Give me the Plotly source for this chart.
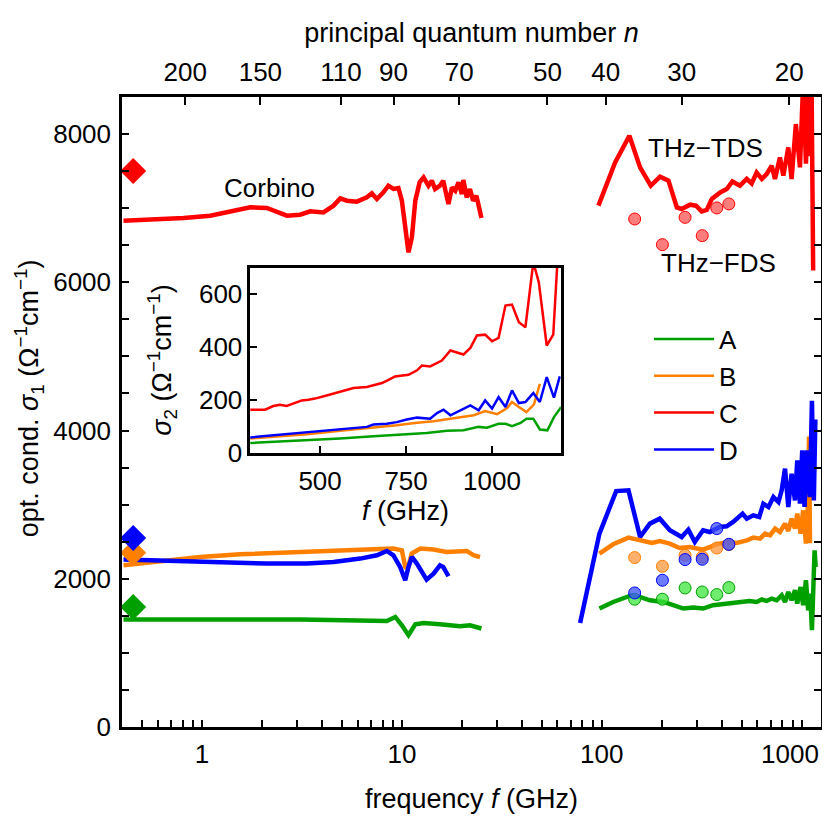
import plotly.graph_objects as go

## Colours of the four samples
col_A = "#00a000"
col_B = "#ff8000"
col_C = "#ff0000"
col_D = "#0000ff"

## DC values (diamonds)
dc_f = [0.453, 0.453, 0.453, 0.453]
dc_s1 = [1620, 2350, 7500, 2550]

## Corbino data, sigma_1 (Ohm^-1 cm^-1) vs frequency (GHz)
corb_f_A = [0.405, 0.98, 3.1, 8.41, 9.27, 10.0, 10.79, 11.67, 12.84, 15.5, 19.5, 21.9, 25.0]
corb_s_A = [1450, 1450, 1450, 1431, 1485, 1373, 1239, 1387, 1404, 1387, 1360, 1373, 1329]

corb_f_B = [0.405, 0.668, 0.98, 1.55, 2.56, 4.55, 7.21, 9.07, 10.0, 10.39, 10.7, 11.2,
            12.36, 14.4, 16.7, 19.5, 21.1, 22.8, 24.6]
corb_s_B = [2182, 2249, 2294, 2330, 2348, 2371, 2394, 2407, 2384, 2159, 2137, 2340,
            2407, 2394, 2361, 2361, 2375, 2317, 2294]

corb_f_C = [0.405, 0.551, 0.809, 1.10, 1.44, 1.745, 2.11, 2.66, 3.10, 3.48, 4.05, 4.55,
            4.92, 5.31, 5.95, 6.68, 7.07, 7.50, 8.08, 8.56, 9.07, 9.61, 10.0, 10.39,
            10.79, 11.22, 11.67, 12.27, 12.84, 13.58, 14.12, 14.66, 15.5, 16.1, 17.1,
            17.8, 18.5, 19.2, 19.95, 20.3, 21.1, 21.9, 22.7, 23.6, 24.5, 25.0]
corb_s_C = [6831, 6841, 6868, 6899, 6957, 7011, 7003, 6899, 6912, 6957, 6943, 7034,
            7132, 7101, 7088, 7146, 7199, 7124, 7213, 7303, 7259, 7272, 7101, 6787,
            6404, 6606, 7101, 7348, 7415, 7303, 7371, 7259, 7303, 7371, 7057,
            7280, 7236, 7348, 7191, 7380, 7146, 7259, 7101, 7168, 6922, 6868]

corb_f_D = [0.405, 0.668, 1.19, 2.11, 3.35, 4.55, 6.19, 7.5, 8.41, 9.07, 9.8, 10.39,
            10.79, 11.22, 11.88, 13.3, 14.4, 15.5, 16.1, 17.1]
corb_s_D = [2259, 2240, 2226, 2205, 2205, 2226, 2272, 2317, 2375, 2317, 2159, 1980,
            2159, 2294, 2205, 1989, 2070, 2182, 2159, 2034]

## THz-TDS data
tds_f_A = [97.3, 114, 141, 155, 174, 203, 228, 256, 287, 321, 360, 421, 489, 548, 595,
           631, 668, 708, 750, 794, 825, 857, 890, 925, 950, 987, 1017, 1050, 1077,
           1103, 1125, 1160, 1175]
tds_s_A = [1598, 1687, 1778, 1755, 1710, 1687, 1643, 1598, 1611, 1598, 1643, 1666, 1687,
           1701, 1687, 1720, 1701, 1733, 1710, 1778, 1687, 1822, 1710, 1845, 1666, 1889,
           1643, 1980, 1575, 1800, 1306, 2384, 2159]

tds_f_B = [97.3, 114, 136, 155, 178, 195, 219, 245, 275, 321, 376, 421, 473, 531, 573,
           619, 655, 695, 736, 779, 825, 857, 890, 925, 950, 987, 1017, 1050, 1077,
           1088, 1100]
tds_s_B = [2340, 2465, 2555, 2519, 2482, 2509, 2474, 2415, 2429, 2393, 2465, 2496, 2482,
           2519, 2555, 2541, 2609, 2586, 2677, 2631, 2744, 2644, 2811, 2677, 2879, 2609,
           2923, 2474, 3058, 3920, 2480]

tds_f_C = [96.2, 116.6, 137.4, 155.4, 175.8, 195.7, 215.5, 237.4, 251, 276.5, 296, 316,
           335, 355, 391, 422, 450, 491, 531, 562, 595, 631, 668, 708, 735, 778, 809,
           857, 890, 935, 980, 1017, 1050, 1077, 1100, 1120, 1141]
tds_s_C = [7034, 7617, 7977, 7550, 7303, 7424, 7371, 7011, 6989, 7047, 7034, 6957,
           6976, 7124, 7213, 7259, 7361, 7303, 7394, 7334, 7482, 7394, 7461, 7573, 7394,
           7685, 7438, 7819, 7394, 8135, 7550, 8700, 7600, 8700, 7700, 8700, 6160]

tds_f_D = [77.9, 97.3, 118, 136, 155.4, 174, 195, 219, 251, 271, 292, 321, 347, 389, 421,
           454, 506, 531, 573, 613, 643, 682, 722, 765, 794, 825, 857, 890, 925, 950,
           980, 1006, 1033, 1062, 1099, 1125, 1150, 1170]
tds_s_D = [1404, 2609, 3183, 3193, 2563, 2744, 2811, 2654, 2563, 2663, 2496, 2654, 2631,
           2698, 2708, 2766, 2879, 2811, 2856, 2833, 3013, 2968, 3102, 3035, 3193, 3485,
           2968, 3418, 3058, 3597, 3013, 3732, 2968, 3732, 3102, 4400, 3058, 4150]

## THz-FDS data (circles)
fds_f = [146, 201, 261, 318, 376, 432]
fds_s_A = [1724, 1724, 1876, 1822, 1787, 1881]
fds_s_B = [2286, 2168, 2317, 2294, 2415, 2460]
fds_s_C = [6854, 6508, 6876, 6629, 7003, 7057]
fds_s_D = [1809, 1980, 2259, 2263, 2677, 2465]

## Inset: sigma_2 vs frequency (GHz)
ins_f_A = [296, 364, 461, 558, 655, 752, 810, 869, 917, 961, 985, 1019, 1039, 1058, 1083,
           1100, 1120, 1139, 1161, 1180, 1201]
ins_s_A = [36, 40, 46, 53, 62, 69, 74, 82, 84, 97, 94, 109, 109, 100, 112,
           128, 128, 87, 84, 134, 172]

ins_f_B = [296, 364, 461, 558, 655, 723, 782, 830, 869, 908, 947, 980, 1015, 1044, 1058,
           1078, 1100, 1122, 1139]
ins_s_B = [53, 59, 69, 82, 94, 103, 113, 118, 126, 134, 141, 157, 145, 168, 191,
           172, 153, 182, 260]

ins_f_C = [296, 340, 364, 383, 403, 422, 447, 466, 485, 519, 558, 597, 636, 655, 680, 699,
           718, 757, 782, 796, 820, 854, 879, 917, 937, 956, 980, 1000, 1019, 1039, 1058,
           1078, 1097, 1120, 1136, 1159, 1178, 1190]
ins_s_C = [162, 162, 176, 181, 176, 185, 197, 200, 204, 216, 229, 244, 248, 254, 263, 275,
           288, 294, 311, 329, 326, 348, 386, 371, 396, 443, 446, 421, 434, 556, 560,
           493, 474, 720, 644, 405, 446, 720]

ins_f_D = [296, 364, 442, 519, 587, 636, 655, 694, 723, 752, 782, 820, 840, 859, 879, 937,
           961, 980, 1000, 1019, 1039, 1058, 1078, 1097, 1120, 1139, 1159, 1180, 1197]
ins_s_D = [57, 65, 74, 84, 91, 97, 106, 109, 115, 125, 132, 128, 149, 162, 141, 178,
           160, 197, 166, 210, 172, 235, 187, 191, 225, 191, 285, 208, 288]

## Axis ticks
n_labels = ["200", "150", "110", "90", "70", "50", "40", "30", "20"]
n_freq = [0.825, 1.96, 4.96, 9.08, 19.35, 53.5, 104.7, 251, 866]
f_decades = [1, 10, 100, 1000]
y_major = [0, 2000, 4000, 6000, 8000]
ins_x_ticks = [500, 750, 1000]
ins_y_ticks = [0, 200, 400, 600]

FONT = "Liberation Sans, Arial, sans-serif"
fig = go.Figure()

names = ["A", "B", "C", "D"]
cols = [col_A, col_B, col_C, col_D]
corb_f = [corb_f_A, corb_f_B, corb_f_C, corb_f_D]
corb_s = [corb_s_A, corb_s_B, corb_s_C, corb_s_D]
tds_f = [tds_f_A, tds_f_B, tds_f_C, tds_f_D]
tds_s = [tds_s_A, tds_s_B, tds_s_C, tds_s_D]
fds_s = [fds_s_A, fds_s_B, fds_s_C, fds_s_D]
ins_f = [ins_f_A, ins_f_B, ins_f_C, ins_f_D]
ins_s = [ins_s_A, ins_s_B, ins_s_C, ins_s_D]
fill = {"A": "rgba(60,230,60,0.75)", "B": "rgba(255,150,60,0.75)",
        "C": "rgba(255,70,70,0.7)", "D": "rgba(60,80,255,0.75)"}

# main panel: corbino + THz-TDS lines, THz-FDS circles, DC diamonds
for i, nm in enumerate(names):
    fig.add_trace(go.Scatter(x=corb_f[i], y=corb_s[i], mode="lines", showlegend=False,
                             line=dict(color=cols[i], width=4.5)))
    fig.add_trace(go.Scatter(x=tds_f[i], y=tds_s[i], mode="lines", showlegend=False,
                             line=dict(color=cols[i], width=4.5)))
for i, nm in enumerate(names):
    fig.add_trace(go.Scatter(x=fds_f, y=fds_s[i], mode="markers", showlegend=False,
                             marker=dict(size=12, color=fill[nm],
                                         line=dict(color=cols[i], width=1))))
for i, nm in enumerate(names):
    fig.add_trace(go.Scatter(x=[dc_f[i]], y=[dc_s1[i]], mode="markers", showlegend=False,
                             cliponaxis=False,
                             marker=dict(symbol="diamond", size=20, color=cols[i])))

# invisible trace so the top (n) axis is drawn
fig.add_trace(go.Scatter(x=n_freq, y=[0] * len(n_freq), xaxis="x2", yaxis="y",
                         mode="markers", marker=dict(opacity=0), showlegend=False,
                         hoverinfo="skip"))

# inset
for i, nm in enumerate(names):
    fig.add_trace(go.Scatter(x=ins_f[i], y=ins_s[i], mode="lines", name=nm,
                             xaxis="x3", yaxis="y3",
                             line=dict(color=cols[i], width=2.5)))

# minor log ticks (2..9 of each decade); 1000 is a plain tick, its label is placed below
x_minor = []
for dec in [0.1, 1, 10, 100]:
    for k in range(2, 10):
        v = round(k * dec, 3)
        if v >= 0.45:
            x_minor.append(v)
x_minor.append(f_decades[-1])
y_minor = [v for v in range(500, 8501, 500) if v not in y_major]

tick_font = dict(family=FONT, size=26, color="black")
title_font = dict(family=FONT, size=27, color="black")
tick_style = dict(ticks="inside", ticklen=7, tickwidth=2, tickcolor="black")

# the page body adds an 8 px offset, margins are set so the frame lands where it should
fig.update_layout(
    width=830, height=825,
    margin=dict(l=114, r=17, t=89, b=106),
    plot_bgcolor="white", paper_bgcolor="white",
    font=dict(family=FONT, size=26, color="black"),
    xaxis=dict(type="log", range=[-0.4, 3.0965], showgrid=False, zeroline=False,
               showline=True, linecolor="black", linewidth=2.5, mirror=True,
               tickvals=f_decades[:-1], ticktext=[str(v) for v in f_decades[:-1]],
               tickfont=tick_font, automargin=False, ticklabelstandoff=2,
               minor=dict(tickmode="array", tickvals=x_minor, **tick_style),
               title=dict(text="frequency <i>f</i> (GHz)", font=title_font, standoff=22),
               **tick_style),
    xaxis2=dict(type="log", range=[-0.4, 3.0965], overlaying="x", side="top", anchor="y",
                showgrid=False, zeroline=False, showline=False, automargin=False,
                ticks="inside", ticklen=8, tickwidth=2, tickcolor="black",
                tickvals=n_freq, ticktext=n_labels, tickfont=tick_font,
                ticklabelstandoff=10,
                title=dict(text="principal quantum number <i>n</i>", font=title_font,
                           standoff=6)),
    yaxis=dict(range=[0, 8500], showgrid=False, zeroline=False, automargin=False,
               showline=True, linecolor="black", linewidth=2.5, mirror="ticks",
               tickvals=y_major, ticklabelstandoff=3, tickfont=tick_font,
               minor=dict(tickmode="array", tickvals=y_minor, **tick_style),
               **tick_style),
    xaxis3=dict(domain=[0.1835, 0.6278], anchor="y3", range=[297, 1200],
                showgrid=False, zeroline=False, showline=True, mirror=True,
                linecolor="black", linewidth=2.5, automargin=False,
                tickvals=ins_x_ticks, tickfont=tick_font, ticklabelstandoff=4,
                title=dict(text="<i>f</i> (GHz)", font=title_font, standoff=6),
                **tick_style),
    yaxis3=dict(domain=[0.4357, 0.7293], anchor="x3", range=[0, 700],
                showgrid=False, zeroline=False, showline=True, mirror=True,
                linecolor="black", linewidth=2.5, automargin=False,
                tickvals=ins_y_ticks, tickfont=tick_font,
                title=dict(text="<i>σ</i><sub>2</sub> (Ω<sup>−1</sup>cm<sup>−1</sup>)",
                           font=title_font, standoff=20),
                **tick_style),
    legend=dict(x=0.754, y=0.653, xanchor="left", yanchor="top",
                bgcolor="rgba(0,0,0,0)", font=dict(family=FONT, size=26),
                tracegroupgap=0, itemwidth=60),
    showlegend=True,
)

# right-most decade label, right-aligned so it stays inside the page
fig.add_annotation(x=3, y=-0.0429, xref="x", yref="paper", text=str(f_decades[-1]),
                   showarrow=False, font=tick_font, xanchor="right", yanchor="middle",
                   xshift=19)

# main y-axis title (placed by hand, it sits a bit above the axis centre)
fig.add_annotation(x=-0.133, y=0.522, xref="paper", yref="paper", textangle=-90,
                   text="opt. cond. <i>σ</i><sub>1</sub> (Ω<sup>−1</sup>cm<sup>−1</sup>)",
                   showarrow=False, font=title_font, xanchor="center", yanchor="middle")

# labels of the measurement techniques
fig.add_annotation(x=0.34, y=7276, xref="x", yref="y", text="Corbino", showarrow=False,
                   font=dict(family=FONT, size=26))
fig.add_annotation(x=2.517, y=7815, xref="x", yref="y", text="THz−TDS", showarrow=False,
                   font=dict(family=FONT, size=26))
fig.add_annotation(x=2.582, y=6262, xref="x", yref="y", text="THz−FDS", showarrow=False,
                   font=dict(family=FONT, size=26))

fig.write_html("out.html")
